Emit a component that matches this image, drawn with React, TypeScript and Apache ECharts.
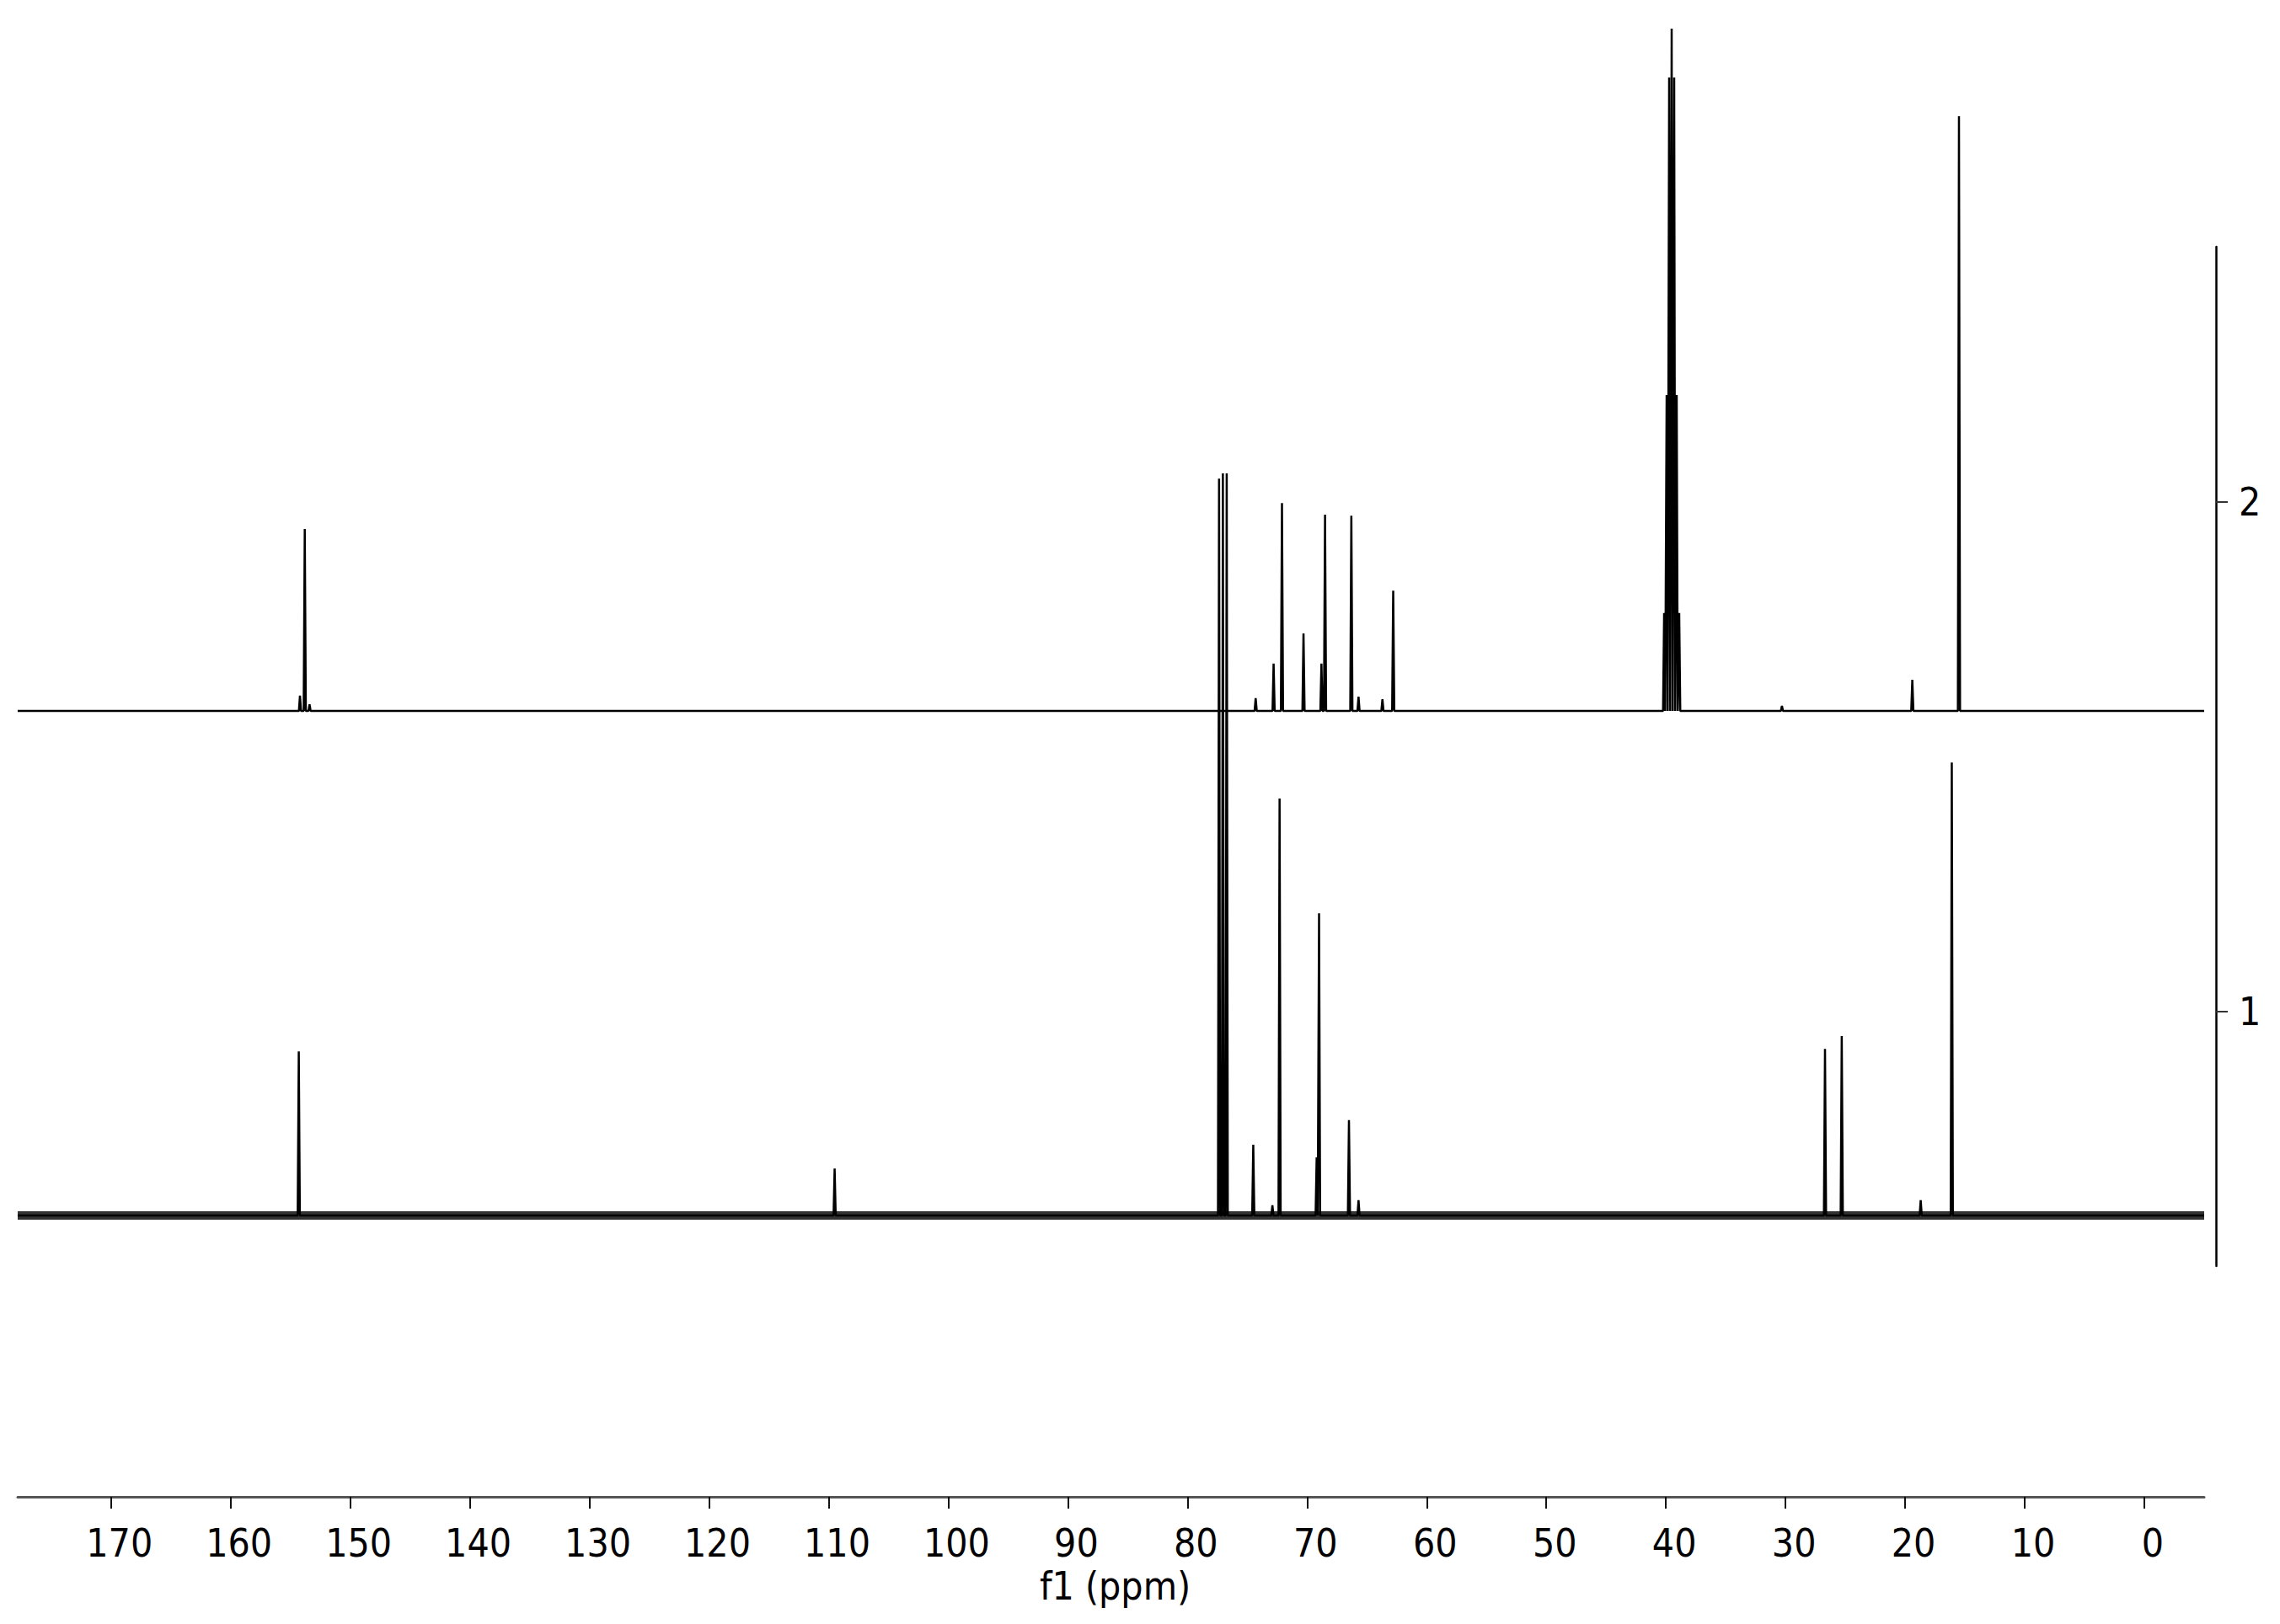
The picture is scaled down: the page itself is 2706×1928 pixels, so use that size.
import React, { useEffect, useRef } from "react";
import * as echarts from "echarts";

// ---- Axis ticks ----
const xTickValues = [0, 10, 20, 30, 40, 50, 60, 70, 80, 90, 100, 110, 120, 130, 140, 150, 160, 170];
const yTickValues = [1, 2];
const xAxisTitle = "f1 (ppm)";

// ---- Trace 2 (upper spectrum) ----
const trace2Baseline = 1.59;
const trace2Shifts = [154.2, 153.8, 153.4, 74.3, 72.8, 72.1, 70.3, 68.8, 68.5, 66.3, 65.7, 63.7, 62.8,
  40.15, 39.94, 39.73, 39.52, 39.31, 39.1, 38.89, 30.3, 19.4, 15.5];
const trace2Heights = [0.03, 0.357, 0.013, 0.025, 0.093, 0.408, 0.152, 0.093, 0.385, 0.383, 0.028, 0.023, 0.236,
  0.192, 0.62, 1.243, 1.339, 1.243, 0.62, 0.192, 0.01, 0.061, 1.167];

// ---- Trace 1 (lower spectrum) ----
const trace1Baseline = 0.6;
const trace1Shifts = [154.3, 109.5, 77.36, 77.04, 76.72, 74.5, 72.9, 72.3, 69.2, 69.0, 66.5, 65.7, 26.7, 25.3, 18.7, 16.1];
const trace1Heights = [0.322, 0.092, 1.446, 1.456, 1.456, 0.139, 0.02, 0.818, 0.114, 0.593, 0.187, 0.03, 0.327, 0.352, 0.03, 0.889];

const X_MAX = 177.8;
const X_MIN = -5;
const PEAK_HALF_WIDTH = 0.09;

const FONT = "'DejaVu Sans Condensed', Verdana, 'DejaVu Sans', sans-serif";

function buildTrace(shifts: number[], heights: number[], base: number): number[][] {
  const peaks = shifts.map((s, i) => [s, heights[i]]).sort((a, b) => b[0] - a[0]);
  const pts: number[][] = [[X_MAX, base]];
  for (const [s, h] of peaks) {
    pts.push([s + PEAK_HALF_WIDTH, base]);
    pts.push([s, base + h]);
    pts.push([s - PEAK_HALF_WIDTH, base]);
  }
  pts.push([X_MIN, base]);
  return pts;
}

export default function App() {
  const ref = useRef<HTMLDivElement>(null);

  useEffect(() => {
    if (!ref.current) return;
    const chart = echarts.init(ref.current, undefined, { renderer: "svg" });

    const option: any = {
      animation: false,
      backgroundColor: "#ffffff",
      grid: [
        { left: 21, right: 90, top: 20, bottom: 151, outerBoundsMode: "none" },
        { left: 2630, width: 10, top: 293, height: 1210, outerBoundsMode: "none" },
      ],
      xAxis: [
        {
          type: "value",
          gridIndex: 0,
          inverse: true,
          min: X_MIN,
          max: X_MAX,
          name: xAxisTitle,
          nameLocation: "middle",
          nameGap: 82,
          nameTextStyle: { fontFamily: FONT, fontSize: 46, color: "#000", padding: [0, 0, 0, 10] },
          axisLine: { show: true, onZero: false, lineStyle: { color: "#555", width: 3 } },
          axisTick: { show: true, length: 14, lineStyle: { color: "#111", width: 2 }, customValues: xTickValues },
          axisLabel: {
            show: true,
            margin: 32,
            fontFamily: FONT,
            fontSize: 46,
            color: "#000",
            padding: [0, 0, 0, 20],
            customValues: xTickValues,
          },
          splitLine: { show: false },
        },
        {
          type: "value",
          gridIndex: 1,
          show: false,
          min: 0,
          max: 1,
        },
      ],
      yAxis: [
        {
          type: "value",
          gridIndex: 0,
          min: 0.048,
          max: 2.952,
          show: false,
        },
        {
          type: "value",
          gridIndex: 1,
          position: "left",
          min: 0.5,
          max: 2.5,
          axisLine: { show: true, lineStyle: { color: "#000", width: 2.5 } },
          axisTick: { show: true, inside: true, length: 14, lineStyle: { color: "#333", width: 2 }, customValues: yTickValues },
          axisLabel: {
            show: true,
            inside: true,
            margin: 27,
            fontFamily: FONT,
            fontSize: 46,
            color: "#000",
            customValues: yTickValues,
          },
          splitLine: { show: false },
        },
      ],
      series: [
        {
          type: "line",
          xAxisIndex: 0,
          yAxisIndex: 0,
          data: [[X_MAX, trace1Baseline], [X_MIN, trace1Baseline]],
          symbol: "none",
          silent: true,
          lineStyle: { color: "#1c1c1c", width: 10, opacity: 0.9 },
          z: 1,
        },
        {
          type: "line",
          xAxisIndex: 0,
          yAxisIndex: 0,
          data: buildTrace(trace1Shifts, trace1Heights, trace1Baseline),
          symbol: "none",
          silent: true,
          lineStyle: { color: "#000", width: 2.5 },
          z: 2,
        },
        {
          type: "line",
          xAxisIndex: 0,
          yAxisIndex: 0,
          data: buildTrace(trace2Shifts, trace2Heights, trace2Baseline),
          symbol: "none",
          silent: true,
          lineStyle: { color: "#000", width: 2.5 },
          z: 3,
        },
      ],
    };

    chart.setOption(option);
    return () => chart.dispose();
  }, []);

  return (
    <div
      ref={ref}
      style={{ position: "fixed", left: 0, top: 0, width: 2706, height: 1928, background: "#fff" }}
    />
  );
}
